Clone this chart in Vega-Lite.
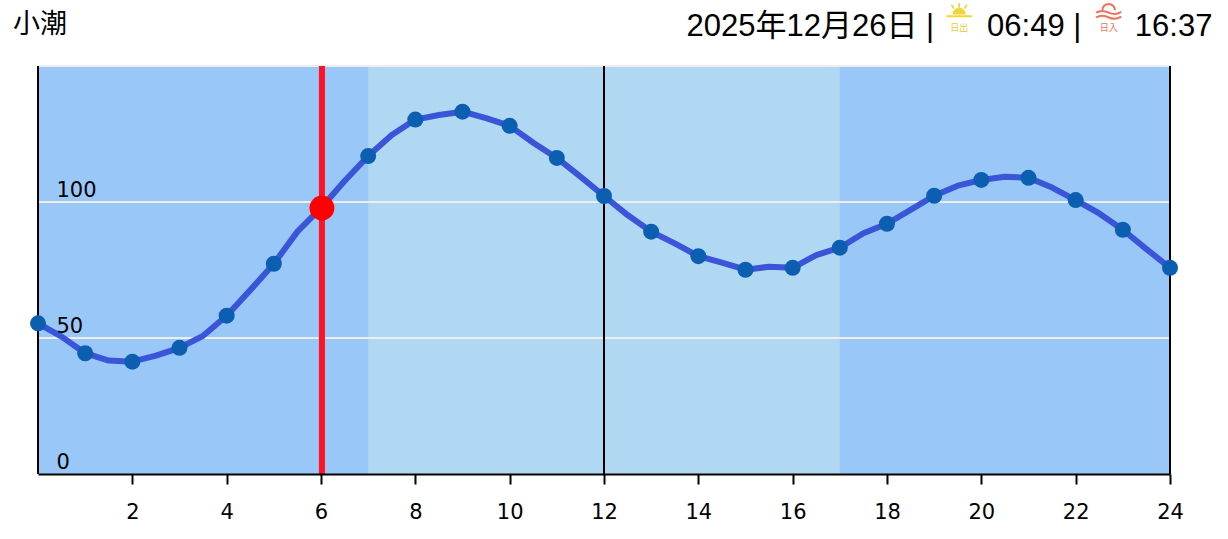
{"$schema":"https://vega.github.io/schema/vega-lite/v6.json","width":1132,"height":408,"autosize":{"type":"none"},"padding":{"left":38,"top":66,"right":58,"bottom":65},"background":"white","view":{"stroke":null},"datasets":{"tide":[{"h":0,"level":55.4,"hourly":true},{"h":0.5,"level":50.5,"hourly":false},{"h":1,"level":44.4,"hourly":true},{"h":1.5,"level":41.7,"hourly":false},{"h":2,"level":41.3,"hourly":true},{"h":2.5,"level":43.5,"hourly":false},{"h":3,"level":46.4,"hourly":true},{"h":3.5,"level":50.8,"hourly":false},{"h":4,"level":58.2,"hourly":true},{"h":4.5,"level":67.6,"hourly":false},{"h":5,"level":77.3,"hourly":true},{"h":5.5,"level":89.1,"hourly":false},{"h":6,"level":97.8,"hourly":true},{"h":6.5,"level":107.7,"hourly":false},{"h":7,"level":116.9,"hourly":true},{"h":7.5,"level":124.6,"hourly":false},{"h":8,"level":130.3,"hourly":true},{"h":8.5,"level":132,"hourly":false},{"h":9,"level":133.2,"hourly":true},{"h":9.5,"level":130.8,"hourly":false},{"h":10,"level":128,"hourly":true},{"h":10.5,"level":121.8,"hourly":false},{"h":11,"level":116.2,"hourly":true},{"h":11.5,"level":109.3,"hourly":false},{"h":12,"level":102.2,"hourly":true},{"h":12.5,"level":95.2,"hourly":false},{"h":13,"level":89.1,"hourly":true},{"h":13.5,"level":84.8,"hourly":false},{"h":14,"level":80.1,"hourly":true},{"h":14.5,"level":77.7,"hourly":false},{"h":15,"level":75.1,"hourly":true},{"h":15.5,"level":76.2,"hourly":false},{"h":16,"level":75.8,"hourly":true},{"h":16.5,"level":80.5,"hourly":false},{"h":17,"level":83.2,"hourly":true},{"h":17.5,"level":88.5,"hourly":false},{"h":18,"level":92,"hourly":true},{"h":18.5,"level":97.1,"hourly":false},{"h":19,"level":102.3,"hourly":true},{"h":19.5,"level":106,"hourly":false},{"h":20,"level":108.1,"hourly":true},{"h":20.5,"level":109.3,"hourly":false},{"h":21,"level":108.9,"hourly":true},{"h":21.5,"level":105.3,"hourly":false},{"h":22,"level":100.7,"hourly":true},{"h":22.5,"level":95.8,"hourly":false},{"h":23,"level":89.8,"hourly":true},{"h":23.5,"level":82.7,"hourly":false},{"h":24,"level":75.8,"hourly":true}],"bands":[{"start":0,"end":24,"phase":"night"},{"start":7,"end":17,"phase":"day"}],"grid":[{"level":50},{"level":100},{"level":150}],"verticals":[{"h":0},{"h":12},{"h":24}],"now":[{"h":6.02,"level":97.8}]},"layer":[{"data":{"name":"bands"},"mark":{"type":"rect"},"encoding":{"x":{"field":"start","type":"quantitative","scale":{"domain":[0,24],"nice":false,"zero":false},"axis":{"values":[2,4,6,8,10,12,14,16,18,20,22,24],"title":null,"grid":false,"zindex":1,"domainColor":"#000000","domainWidth":2,"tickColor":"#000000","tickWidth":2,"tickSize":10,"labelFontSize":21,"labelFont":"DejaVu Sans","labelColor":"#000000","labelPadding":17,"labelFlush":false,"labelOverlap":false}},"x2":{"field":"end"},"y":{"datum":0,"type":"quantitative","scale":{"domain":[0,150],"nice":false},"axis":{"values":[0,50,100],"title":null,"grid":false,"zindex":1,"domain":false,"ticks":false,"tickSize":0,"labelAlign":"left","labelPadding":-18,"labelOffset":-12,"labelBaseline":"middle","labelFontSize":21,"labelFont":"DejaVu Sans","labelColor":"#000000"}},"y2":{"datum":150},"color":{"field":"phase","type":"nominal","scale":{"domain":["night","day"],"range":["#99c8f8","#b0d8f2"]},"legend":null}}},{"data":{"name":"grid"},"mark":{"type":"rule","color":"#eeeeee","strokeWidth":2},"encoding":{"y":{"field":"level","type":"quantitative"}}},{"data":{"name":"verticals"},"mark":{"type":"rule","color":"#000000","strokeWidth":2},"encoding":{"x":{"field":"h","type":"quantitative"}}},{"data":{"name":"tide"},"mark":{"type":"line","color":"#3a55d8","strokeWidth":6,"interpolate":"linear","strokeJoin":"round"},"encoding":{"x":{"field":"h","type":"quantitative"},"y":{"field":"level","type":"quantitative"}}},{"data":{"name":"tide"},"transform":[{"filter":"datum.hourly"}],"mark":{"type":"point","filled":true,"opacity":1,"color":"#0b5eb0","size":256},"encoding":{"x":{"field":"h","type":"quantitative"},"y":{"field":"level","type":"quantitative"}}},{"data":{"name":"now"},"mark":{"type":"rule","color":"#ff1128","strokeWidth":6},"encoding":{"x":{"field":"h","type":"quantitative"}}},{"data":{"name":"now"},"mark":{"type":"point","filled":true,"opacity":1,"color":"#ff0000","size":620},"encoding":{"x":{"field":"h","type":"quantitative"},"y":{"field":"level","type":"quantitative"}}},{"data":{"values":[{"label":"小潮"}]},"mark":{"type":"text","align":"left","baseline":"middle","fontSize":27,"font":"Noto Sans CJK JP","color":"#000000"},"encoding":{"x":{"datum":-0.53},"y":{"datum":165.1},"text":{"field":"label"}}},{"data":{"values":[{"label":"2025年12月26日 |"}]},"mark":{"type":"text","align":"right","baseline":"middle","fontSize":31,"font":"Liberation Sans, Noto Sans CJK JP","color":"#000000"},"encoding":{"x":{"datum":19.0},"y":{"datum":164.4},"text":{"field":"label"}}},{"data":{"values":[{"label":"06:49 |"}]},"mark":{"type":"text","align":"right","baseline":"middle","fontSize":31,"font":"Liberation Sans","color":"#000000"},"encoding":{"x":{"datum":22.12},"y":{"datum":164.4},"text":{"field":"label"}}},{"data":{"values":[{"label":"16:37"}]},"mark":{"type":"text","align":"right","baseline":"middle","fontSize":31,"font":"Liberation Sans","color":"#000000"},"encoding":{"x":{"datum":24.9},"y":{"datum":164.4},"text":{"field":"label"}}},{"data":{"values":[{"label":"日出"}]},"mark":{"type":"text","align":"center","baseline":"middle","fontSize":9,"font":"Noto Sans CJK JP","color":"#e8cc3c"},"encoding":{"x":{"datum":19.53},"y":{"datum":164},"text":{"field":"label"}}},{"data":{"values":[{"label":"日入"}]},"mark":{"type":"text","align":"center","baseline":"middle","fontSize":9,"font":"Noto Sans CJK JP","color":"#f0705a"},"encoding":{"x":{"datum":22.7},"y":{"datum":164},"text":{"field":"label"}}},{"data":{"values":[{"icon":"sunrise"}]},"mark":{"type":"point","filled":true,"opacity":1,"color":"#efd53a","strokeWidth":0,"size":784,"shape":"M-.9 .36 L.9 .36 L.9 .5 L-.9 .5 Z M-.47 .3 A.47 .47 0 0 1 .47 .3 Z M-.07 -.5 L.07 -.5 L.07 -.2 L-.07 -.2 Z M-.6 -.35 L-.5 -.42 L-.32 -.14 L-.42 -.08 Z M.6 -.35 L.5 -.42 L.32 -.14 L.42 -.08 Z"},"encoding":{"x":{"datum":19.53},"y":{"datum":170.5}}},{"data":{"values":[{"icon":"sunset"}]},"mark":{"type":"point","filled":false,"opacity":1,"color":"#f0705a","strokeWidth":2,"size":784,"shape":"M-.45 -.1 A.45 .45 0 0 1 .45 -.1 M-.9 .08 Q-.45 -.18 0 .08 Q.45 .3 .9 .02 M-.9 .42 Q-.45 .16 0 .42 Q.45 .62 .9 .36"},"encoding":{"x":{"datum":22.7},"y":{"datum":170}}}]}
